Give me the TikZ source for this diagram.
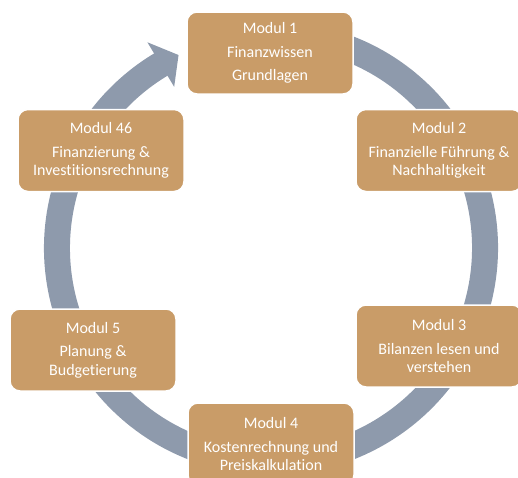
\documentclass[tikz,border=0pt]{standalone}
\usepackage{fontspec}
\setmainfont{Carlito}[RawFeature={-liga;-clig}]
\usetikzlibrary{calc}
\definecolor{modfill}{RGB}{201,156,104}
\definecolor{ringgray}{RGB}{142,154,172}

\begin{document}
\begin{tikzpicture}[x=1pt,y=1pt,
  modul/.style={draw=white,line width=1.5pt,fill=modfill,rounded corners=10pt,
    minimum width=166pt,minimum height=82pt,inner sep=0pt,align=center,
    text=white,font=\fontsize{16}{18.5}\selectfont},
  ring/.style={ringgray,line width=26pt}]
\useasboundingbox (0,0) rectangle (518,-477);
\clip (0,0) rectangle (518,-477);
\coordinate (c) at (271,-248);
\draw[ring] (c) ++(75:214) arc[start angle=75,end angle=-239.5,radius=214];
\fill[ringgray] ($(c)+(121:240)$) -- ($(c)+(115.6:214)$) -- ($(c)+(121:188)$) -- cycle;
\node[modul] (m1) at (270,-53) {Modul 1\\[5pt]Finanzwissen\\[5pt]Grundlagen};
\node[modul] (m2) at (439,-150.5) {Modul 2\\[5pt]Finanzielle Führung \&\\Nachhaltigkeit};
\node[modul] (m3) at (439,-346) {Modul 3\\[5pt]Bilanzen lesen und\\verstehen};
\node[modul] (m4) at (271,-444) {Modul 4\\[5pt]Kostenrechnung und\\Preiskalkulation};
\node[modul] (m5) at (93,-350) {Modul 5\\[5pt]Planung \&\\Budgetierung};
\node[modul] (m46) at (101,-150.5) {Modul 46\\[5pt]Finanzierung \&\\Investitionsrechnung};
\end{tikzpicture}
\end{document}
